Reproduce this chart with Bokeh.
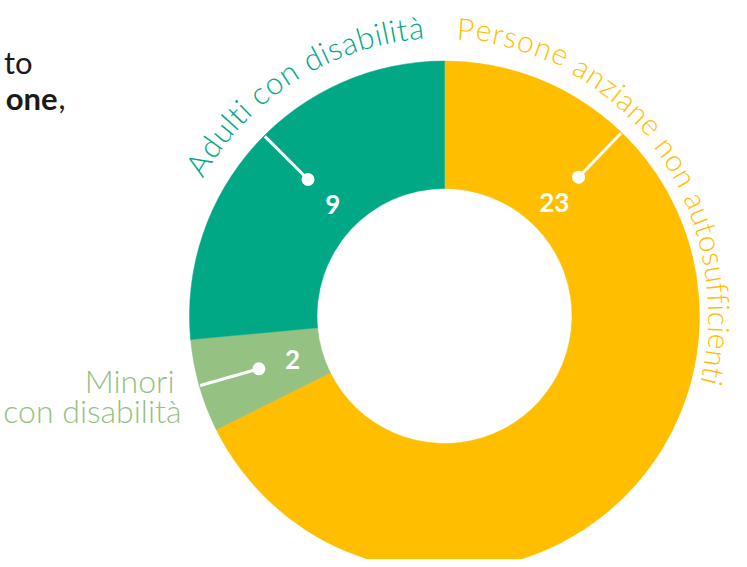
import math
from bokeh.plotting import figure
from bokeh.models import Range1d
from bokeh.core.properties import value
from bokeh.embed import file_html
from bokeh.resources import INLINE

# ---------------- data ----------------
categories = ["Persone anziane non autosufficienti", "Minori con disabilità", "Adulti con disabilità"]
values = [23, 2, 9]
colors = ["#FFBE00", "#95C183", "#00A886"]
intro_fragments = ["to", "one", ","]

# ---------------- layout ----------------
W, H = 739, 559
MID = 0.387          # em offset between baseline and "middle" anchor


def sy(y):
    # picture row -> data y (y up)
    return H - y


CX, CY = 444.0, sy(315.5)          # donut centre
R_OUT, R_IN = 255.0, 127.5
LIGHT = "Lato Light, Lato"

p = figure(width=W, height=H, x_range=Range1d(0, W), y_range=Range1d(0, H),
           output_backend="svg", toolbar_location=None, min_border=0,
           outline_line_color=None, background_fill_color="white",
           border_fill_color="white")
p.axis.visible = False
p.grid.visible = False

total = float(sum(values))
starts, ends = [], []
acc = 0.0
for v in values:
    starts.append(acc / total * 360.0)
    acc += v
    ends.append(acc / total * 360.0)


def compass_to_rad(c):
    return math.radians(90.0 - c)


p.annular_wedge(x=[CX] * len(values), y=[CY] * len(values),
                inner_radius=R_IN, outer_radius=R_OUT,
                start_angle=[compass_to_rad(a) for a in starts],
                end_angle=[compass_to_rad(b) for b in ends],
                direction="clock", fill_color=colors, line_color=colors, line_width=0.5)

# leader lines, dots and values
label_compass = [44.0, (starts[1] + ends[1]) / 2.0, 315.0]
R_DOT, R_NUM = 193.0, 158.0
x0s, y0s, x1s, y1s, nx, ny = [], [], [], [], [], []
for c in label_compass:
    t = math.radians(c)
    x0s.append(CX + R_DOT * math.sin(t)); y0s.append(CY + R_DOT * math.cos(t))
    x1s.append(CX + (R_OUT - 1) * math.sin(t)); y1s.append(CY + (R_OUT - 1) * math.cos(t))
    nx.append(CX + R_NUM * math.sin(t)); ny.append(CY + R_NUM * math.cos(t))
p.segment(x0=x0s, y0=y0s, x1=x1s, y1=y1s, line_color="white", line_width=3)
p.scatter(x=x0s, y=y0s, size=13, fill_color="white", line_color=None)
p.text(x=nx, y=ny, text=[str(v) for v in values], text_font=value("Lato"),
       text_font_style="bold", text_font_size="26px", text_color="white",
       text_align="center", text_baseline="middle")

# ---------------- curved labels ----------------
TABLE = {' ': 0.193, 'a': 0.49, 'b': 0.55, 'c': 0.46, 'd': 0.55, 'e': 0.51, 'f': 0.31,
         'i': 0.23, 'l': 0.23, 'n': 0.55, 'o': 0.55, 'r': 0.36, 's': 0.41, 't': 0.33,
         'u': 0.55, 'z': 0.44, 'A': 0.68, 'P': 0.58, 'M': 0.83, 'à': 0.49}


def char_widths(txt, size):
    try:
        import subprocess
        from PIL import ImageFont
        path = subprocess.run(["fc-match", "-f", "%{file}", "Lato:light"],
                              capture_output=True, text=True).stdout.strip()
        f = ImageFont.truetype(path, size)
        return [f.getlength(ch) for ch in txt]
    except Exception:
        return [TABLE.get(ch, 0.5) * size for ch in txt]


def curved(txt, a0, a1, rfunc, color, size):
    ws = char_widths(txt, size)
    tot = sum(ws)
    xs, ys, angs, chars = [], [], [], []
    cum = 0.0
    for ch, w in zip(txt, ws):
        frac = (cum + w / 2.0) / tot
        c = a0 + frac * (a1 - a0)
        t = math.radians(c)
        cum += w
        if ch == " ":
            continue
        r = rfunc(t) + MID * size
        xs.append(CX + r * math.sin(t))
        ys.append(CY + r * math.cos(t))
        angs.append(-t)
        chars.append(ch)
    p.text(x=xs, y=ys, text=chars, angle=angs, text_font=value(LIGHT),
           text_font_size=f"{size}px", text_color=color,
           text_align="center", text_baseline="middle")


# baseline pulled in a little around 3 o'clock so the text stays inside the canvas
curved(categories[0], 2.3, 104.5, lambda t: 277.0 - 13.0 * max(0.0, math.sin(t)) ** 2,
       colors[0], 30)
curved(categories[2], 299.5, 356.0, lambda t: 278.0, colors[2], 31)

# two-line label for the small slice
first, rest = categories[1].split(" ", 1)
p.text(x=[174, 181], y=[sy(392 - MID * 32), sy(422 - MID * 32)], text=[first, rest],
       text_font=value(LIGHT), text_font_size="32px", text_color=colors[1],
       text_align="right", text_baseline="middle")

# clipped fragment of surrounding paragraph
p.text(x=[32], y=[sy(73 - MID * 31)], text=[intro_fragments[0]], text_font=value("Lato"),
       text_font_size="31px", text_color="#1a1a1a", text_align="right",
       text_baseline="middle")
p.text(x=[57], y=[sy(109 - MID * 31)], text=[intro_fragments[1]], text_font=value("Lato"),
       text_font_style="bold", text_font_size="31px", text_color="#1a1a1a",
       text_align="right", text_baseline="middle")
p.text(x=[58], y=[sy(109 - MID * 31)], text=[intro_fragments[2]], text_font=value("Lato"),
       text_font_size="31px", text_color="#1a1a1a", text_align="left",
       text_baseline="middle")

open("out.html", "w").write(file_html(p, INLINE))
